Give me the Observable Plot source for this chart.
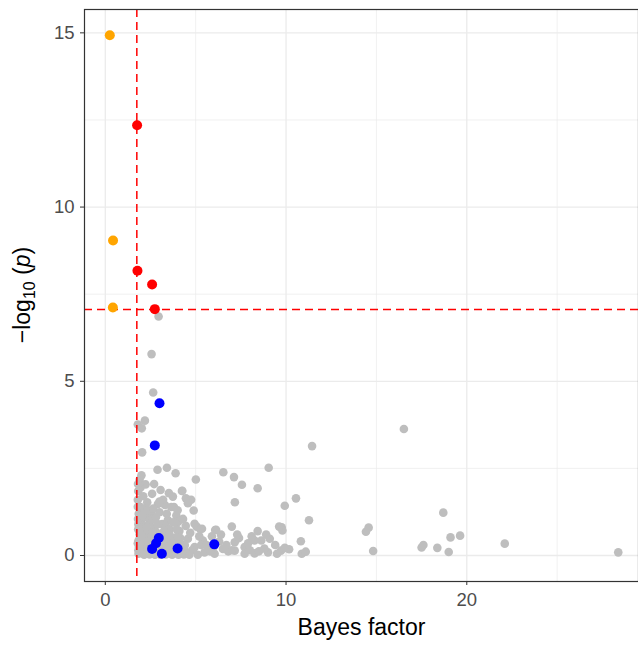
<!DOCTYPE html>
<html>
<head>
<meta charset="utf-8">
<script src="https://cdn.jsdelivr.net/npm/d3@7"></script>
<script src="https://cdn.jsdelivr.net/npm/@observablehq/plot@0.6"></script>
<style>
  html, body { margin: 0; padding: 0; background: #fff; }
  #chart svg { display: block; }
</style>
</head>
<body>
<div id="chart"></div>
<script>
// ---- data ----
const greyX = [2.95,2.56,2.65,2.19,1.80,2.02,2.04,2.89,3.41,3.89,6.53,7.12,9.04,1.90,5.01,11.44,16.52,10.55,9.93,11.27,9.76,9.80,10.82,10.17,9.72,10.87,11.09,14.42,14.57,14.82,17.50,17.60,18.37,18.70,19.00,19.10,19.63,22.10,28.38,
  7.56,8.43,7.17,4.24,3.74,4.46,4.75,4.57,4.89,3.80,7.00,6.13,8.43,5.05,5.35,9.62,
  2.23,2.59,3.06,3.52,4.26,1.80,2.32,2.91,1.95,2.54,3.00,3.65,3.93,3.46,1.98,2.45,2.72,4.02,4.94,5.25,6.08,1.98,2.26,3.28,3.65,4.57,5.40,4.94,5.68,6.51,7.16,7.71,8.26,8.63,9.10,8.26,9.00,9.93,7.71,7.16,6.05,5.49,1.84,1.84,2.17,3.46,3.65,4.39,4.57,2.72,2.35,3.28,4.20,5.12,
  1.82,1.85,1.83,1.90,1.86,2.10,2.05,2.15,2.30,2.40,2.50,2.60,2.80,2.85,3.15,3.30,3.35,3.55,3.75,3.85,4.10,4.30,4.45,4.70,2.10,2.40,2.95,3.90,4.80,5.30,6.30,6.80,8.00,8.80,9.40,9.50,5.90,7.40,2.00,2.70,1.95,3.20,4.00,2.25,2.60,3.10,4.15,5.80,6.70,7.90,8.50,
  1.80,1.81,1.82,1.80,1.83,1.81,2.00,2.05,2.20,2.35,2.55,2.70,2.90,3.05,3.20,3.40,3.60,3.80,4.00,4.20,4.40,2.15,2.45,2.75,3.05,3.35,3.70,4.05,4.35,4.65,2.00,2.30,2.60,2.90,3.25,3.55,3.95,2.05,2.35,2.65,3.00,3.40,5.60,6.40,7.30,8.10,8.90,6.00,7.00,5.20];
const greyY = [6.86,5.78,4.68,3.87,3.76,3.65,2.96,2.46,2.52,2.36,2.39,2.25,2.52,2.17,2.18,3.14,3.63,1.64,1.43,1.01,0.81,0.72,0.41,0.18,0.14,0.05,0.11,0.68,0.80,0.13,0.23,0.30,0.22,1.23,0.10,0.52,0.57,0.34,0.09,
  2.03,1.93,1.53,1.85,1.69,1.64,1.60,1.50,1.29,1.39,0.83,0.74,0.70,0.83,0.77,0.83,
  2.04,1.77,1.88,1.79,1.86,1.60,1.53,1.48,1.39,1.24,1.24,1.39,1.15,1.02,1.00,0.96,0.81,0.96,0.91,0.76,0.73,0.72,0.57,0.62,0.52,0.48,0.43,0.24,0.24,0.19,0.38,0.24,0.43,0.43,0.48,0.06,0.09,0.22,0.05,0.14,0.05,0.09,0.43,0.05,0.24,0.19,0.05,0.14,0.05,0.05,0.38,0.33,0.33,0.02,
  1.85,1.20,0.90,0.60,0.25,1.70,1.25,0.85,1.10,0.70,0.45,1.05,1.10,0.65,0.90,1.45,0.85,0.75,0.95,0.45,0.70,1.05,0.85,0.65,0.10,0.12,0.15,0.12,0.15,0.30,0.40,0.12,0.15,0.20,0.30,0.05,0.55,0.50,2.30,2.05,1.95,1.60,1.30,1.35,0.30,0.45,0.50,0.12,0.30,0.35,0.12,
  1.40,1.05,0.75,0.35,0.15,2.05,0.55,0.30,0.40,0.25,0.60,0.55,0.35,0.60,0.20,0.40,0.30,0.20,0.55,0.20,0.30,0.02,0.03,0.02,0.02,0.03,0.02,0.02,0.03,0.02,0.80,0.80,0.65,0.90,0.70,0.60,0.75,1.15,1.30,1.35,1.55,1.20,0.30,0.60,0.60,0.55,0.60,0.25,0.15,0.55];
const orangeX = [0.25, 0.43, 0.42];
const orangeY = [14.93, 9.04, 7.12];
const redX = [1.76, 1.78, 2.59, 2.74];
const redY = [12.35, 8.17, 7.78, 7.07];
const blueX = [3.00, 2.74, 2.96, 2.81, 2.59, 3.13, 4.00, 6.03];
const blueY = [4.37, 3.16, 0.50, 0.35, 0.19, 0.05, 0.20, 0.32];
const bfThreshold = [1.745];
const pThreshold = [7.06];
const xTicks = [0, 10, 20];
const yTicks = [0, 5, 10, 15];
const xMinor = [5, 15, 25];
const yMinor = [2.5, 7.5, 12.5];

const toRows = (xs, ys) => xs.map((x, i) => ({x, y: ys[i]}));
const grey = toRows(greyX, greyY);
const orange = toRows(orangeX, orangeY);
const red = toRows(redX, redY);
const blue = toRows(blueX, blueY);

const font = "'Liberation Sans', Arial, Helvetica, sans-serif";

const plot = Plot.plot({
  width: 638,
  height: 648,
  marginLeft: 84,
  marginRight: 0,
  marginTop: 9,
  marginBottom: 67,
  style: {fontFamily: font, fontSize: "18.5px", background: "#fff", overflow: "visible"},
  x: {domain: [-1.15, 29.5], label: null},
  y: {domain: [-0.746, 15.67], label: null},
  marks: [
    Plot.ruleX(xMinor, {stroke: "#EBEBEB", strokeWidth: 0.7}),
    Plot.ruleY(yMinor, {stroke: "#EBEBEB", strokeWidth: 0.7}),
    Plot.ruleX(xTicks, {stroke: "#EBEBEB", strokeWidth: 1.3}),
    Plot.ruleY(yTicks, {stroke: "#EBEBEB", strokeWidth: 1.3}),
    Plot.dot(grey, {x: "x", y: "y", r: 4.3, fill: "#BEBEBE", stroke: "none"}),
    Plot.ruleY(pThreshold, {stroke: "#FF0000", strokeWidth: 1.5, strokeDasharray: "8,5"}),
    Plot.ruleX(bfThreshold, {stroke: "#FF0000", strokeWidth: 1.5, strokeDasharray: "8,5"}),
    Plot.dot(orange, {x: "x", y: "y", r: 5, fill: "#FFA500", stroke: "none"}),
    Plot.dot(red, {x: "x", y: "y", r: 5, fill: "#FF0000", stroke: "none"}),
    Plot.dot(blue, {x: "x", y: "y", r: 5, fill: "#0000FF", stroke: "none"}),
    Plot.frame({stroke: "#333333", strokeWidth: 1.2}),
    Plot.axisX({ticks: xTicks, tickSize: 4, tickPadding: 7, stroke: "#333333", fill: "#4D4D4D", label: null, fontSize: "18.5px"}),
    Plot.axisY({ticks: yTicks, tickSize: 4, tickPadding: 6, stroke: "#333333", fill: "#4D4D4D", label: null, fontSize: "18.5px"}),
    Plot.text(["Bayes factor"], {frameAnchor: "bottom", dy: 53, fontSize: 23, fill: "#000", fontFamily: font})
  ]
});

document.getElementById("chart").appendChild(plot);

// y-axis title with subscript and italic p
const svg = d3.select(plot);
const yTitle = svg.append("text")
  .attr("transform", "translate(30,295) rotate(-90)")
  .attr("text-anchor", "middle")
  .attr("font-family", font)
  .attr("font-size", 23)
  .attr("fill", "#000");
yTitle.append("tspan").text("\u2212log");
yTitle.append("tspan").attr("font-size", 16).attr("dy", 5).text("10");
yTitle.append("tspan").attr("dy", -5).text(" (");
yTitle.append("tspan").attr("font-style", "italic").text("p");
yTitle.append("tspan").text(")");
</script>
</body>
</html>
